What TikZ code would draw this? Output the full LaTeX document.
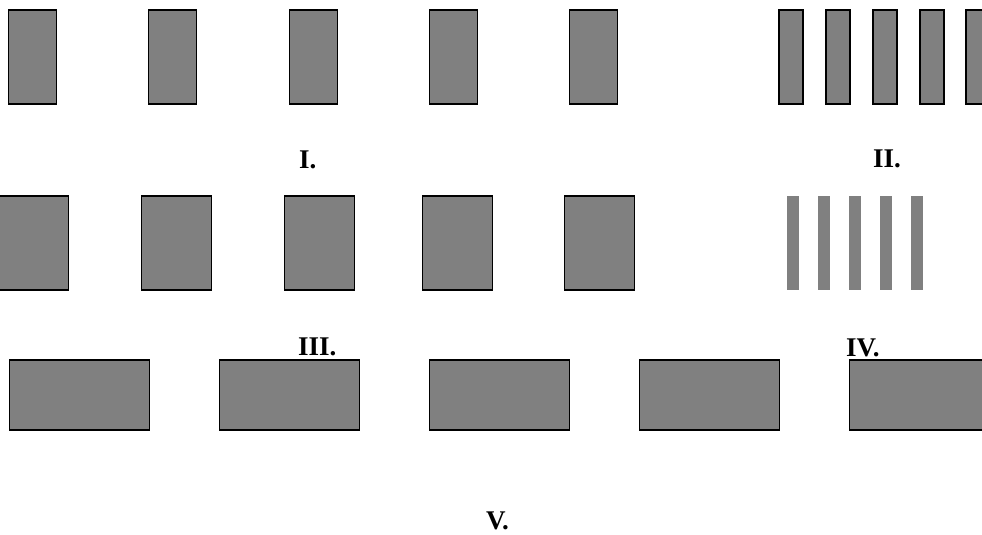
\documentclass[tikz,border=0pt]{standalone}
\usepackage{fontspec}
\setmainfont{Liberation Serif}
\usepackage{tikz}
\usetikzlibrary{positioning}
\definecolor{ink}{HTML}{000000}
\definecolor{slab}{HTML}{808080}

\begin{document}
\begin{tikzpicture}[x=1pt,y=-1pt,
    block/.style={draw=ink,fill=slab,line width=1.8pt,inner sep=0pt},
    tallblock/.style={block,minimum width=48pt,minimum height=94pt},
    thinblock/.style={block,minimum width=24pt,minimum height=94pt},
    squareblock/.style={block,minimum width=70pt,minimum height=94pt},
    flatblock/.style={block,minimum width=140pt,minimum height=70pt},
    stripe/.style={fill=slab,inner sep=0pt,minimum width=12pt,minimum height=94pt},
    caption/.style={font=\fontsize{27}{32}\selectfont\bfseries,inner sep=0pt,anchor=base west}]
  \useasboundingbox (0,0) rectangle (982,535);
  % row I and II
  \foreach \x [count=\i] in {32.5,172.5,313.5,453.5,593.5}
    \node[tallblock] (one-\i) at (\x,57) {};
  \foreach \x [count=\i] in {791,838,885,932,978}
    \node[thinblock] (two-\i) at (\x,57) {};
  \node[caption] (lab-one) at (299,168) {I.};
  \node[caption] (lab-two) at (873,167) {II.};
  % row III and IV
  \foreach \x [count=\i] in {33.5,176.5,319.5,457.5,599.5}
    \node[squareblock] (three-\i) at (\x,243) {};
  \foreach \x [count=\i] in {793,824,855,886,917}
    \node[stripe] (four-\i) at (\x,243) {};
  \node[caption] (lab-three) at (298,355) {III.};
  \node[caption] (lab-four) at (846,356) {IV.};
  % row V
  \foreach \x [count=\i] in {79.5,289.5,499.5,709.5,919.5}
    \node[flatblock] (five-\i) at (\x,395) {};
  \node[caption] (lab-five) at (486,529) {V.};
\end{tikzpicture}
\end{document}
